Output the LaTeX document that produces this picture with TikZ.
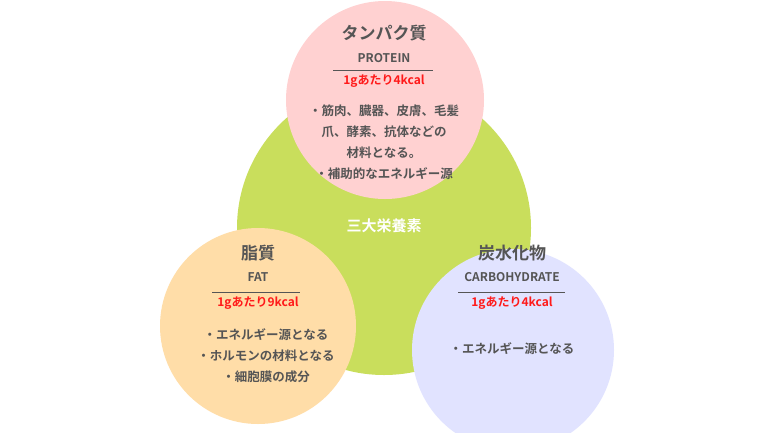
\documentclass[tikz,border=0pt]{standalone}
\usepackage{fontspec}
\setmainfont{Noto Sans CJK JP}[BoldFont={* Bold}]
\definecolor{gr}{HTML}{C9DE5C}
\definecolor{pk}{HTML}{FFD1D1}
\definecolor{og}{HTML}{FFDDA8}
\definecolor{bl}{HTML}{E1E3FF}
\definecolor{tx}{HTML}{555555}
\definecolor{rd}{HTML}{FF1A1A}
\begin{document}
\begin{tikzpicture}[x=1pt,y=-1pt,
 ttl/.style={font=\bfseries\fontsize{17}{19}\selectfont,text=tx},
 sub/.style={font=\bfseries\fontsize{12}{14}\selectfont,text=tx},
 red/.style={font=\bfseries\fontsize{12}{14}\selectfont,text=rd},
 body/.style={font=\bfseries\fontsize{12.5}{21}\selectfont,text=tx,align=center},
 rule/.style={draw=tx,line width=1pt}]
\useasboundingbox (0,0) rectangle (768,432);
\fill[white] (0,0) rectangle (768,432);
\fill[gr] (384,228) circle (147);
\fill[pk] (385,100) circle (99);
\fill[og] (258,326) circle (98);
\fill[bl] (513,350) circle (101);
\node[font=\bfseries\fontsize{15}{17}\selectfont,text=white] (c) at (384,226) {三大栄養素};
% top
\node[ttl] (t1) at (384,33) {タンパク質};
\node[sub] (t2) at (384,58) {PROTEIN};
\coordinate (t3a) at (333,70); \coordinate (t3b) at (433,70);
\draw[rule] (t3a) -- (t3b);
\node[red] (t4) at (384,81) {1gあたり4kcal};
\node[body] (t5) at (384,142) {・筋肉、臓器、皮膚、毛髪\\爪、酵素、抗体などの\\材料となる。\\・補助的なエネルギー源};
% left
\node[ttl] (l1) at (258,253) {脂質};
\node[sub] (l2) at (258,277) {FAT};
\coordinate (l3a) at (212,292); \coordinate (l3b) at (300,292);
\draw[rule] (l3a) -- (l3b);
\node[red] (l4) at (258,303) {1gあたり9kcal};
\node[body] (l5) at (266,356) {・エネルギー源となる\\・ホルモンの材料となる\\・細胞膜の成分};
% right
\node[ttl] (r1) at (512,253) {炭水化物};
\node[sub] (r2) at (512,277) {CARBOHYDRATE};
\coordinate (r3a) at (458,292); \coordinate (r3b) at (565,292);
\draw[rule] (r3a) -- (r3b);
\node[red] (r4) at (512,303) {1gあたり4kcal};
\node[body] (r5) at (512,349) {・エネルギー源となる};
\end{tikzpicture}
\end{document}
